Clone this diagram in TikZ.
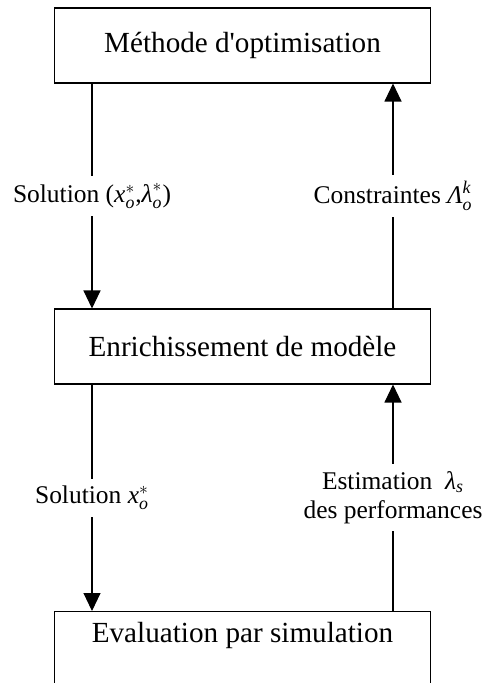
\documentclass[tikz,border=0pt]{standalone}
\usepackage{amsmath}
\usepackage{fontspec}
\setmainfont{Liberation Serif}
\usepackage{tikz}
\usetikzlibrary{arrows.meta,positioning}

% italic letters taken from the text font
\newcommand{\vi}[1]{\text{\itshape #1}}

\begin{document}
\begin{tikzpicture}[x=0.02cm, y=-0.02cm,
    font=\fontsize{16.6}{17}\selectfont]

% =========================
% Styles
% =========================
\tikzset{
    procbox/.style={
        draw=black,
        line width=0.6pt,
        fill=white,
        minimum width=7.54cm,
        minimum height=1.5cm,
        inner sep=0pt
    },
    flow/.style={
        draw=black,
        line width=0.6pt,
        -{Triangle[length=0.36cm, width=0.34cm]}
    },
    flowlbl/.style={
        fill=white,
        align=center,
        font=\fontsize{14.5}{17}\selectfont,
        inner xsep=2pt,
        inner ysep=4pt
    }
}

% page frame (the bottom box is cut by the lower edge)
\clip (0,0) rectangle (486,683);
\useasboundingbox (0,0) rectangle (486,683);

% =========================
% Boxes
% =========================
\node[procbox] (opt) at (242.5,45.5) {M\'ethode d\textquotesingle optimisation};
\node[procbox] (enr) at (242.5,346.5) {Enrichissement de mod\`ele};
\node[procbox, anchor=north, text depth=0.66cm] (sim) at (242.5,611)
    {Evaluation par simulation};

% x positions of the two columns of connectors
\coordinate (down) at (92,0);
\coordinate (up) at (393,0);

% =========================
% Connectors
% =========================
% going down
\draw[flow] (opt.south -| down) --
    node[flowlbl] {Solution ($\vi{x}^{*}_{\vi{o}}$,$\vi{λ}^{*}_{\vi{o}}$)}
    (enr.north -| down);
\draw[flow] (enr.south -| down) --
    node[flowlbl] {Solution $\vi{x}^{*}_{\vi{o}}$}
    (sim.north -| down);

% going up
\draw[flow] (enr.north -| up) --
    node[flowlbl] {Constraintes $\vi{Λ}^{\vi{k}}_{\vi{o}}$}
    (opt.south -| up);
\draw[flow] (sim.north -| up) --
    node[flowlbl] {Estimation ~$\vi{λ}_{\vi{s}}$\\des performances}
    (enr.south -| up);

\end{tikzpicture}
\end{document}
